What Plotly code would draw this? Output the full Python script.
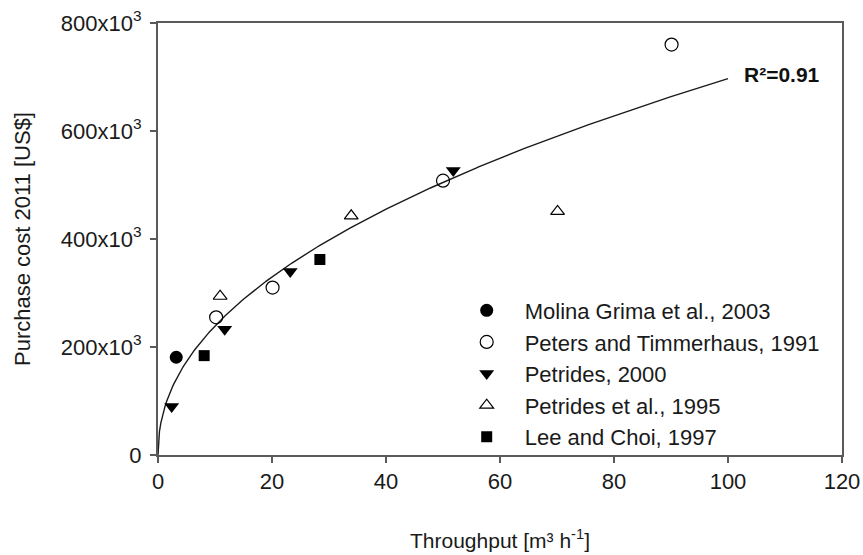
import numpy as np
import plotly.graph_objects as go

# ---- data ----
molina_x = [3.2]
molina_y = [181000]

peters_x = [10.2, 20.1, 50.0, 90.1]
peters_y = [255000, 310000, 508000, 760000]

petrides2000_x = [2.4, 11.7, 23.2, 51.8]
petrides2000_y = [90000, 233000, 340000, 527000]

petrides1995_x = [10.9, 33.9, 70.1]
petrides1995_y = [294000, 443000, 451000]

lee_x = [8.1, 28.4]
lee_y = [184000, 362000]

# power-law fit  y = a * x^b   (R^2 = 0.91)
fit_a = 81900
fit_b = 0.465
fit_xmax = 100

y_tickvals = [0, 200000, 400000, 600000, 800000]
y_ticktext = ["0", "200x10<sup>3</sup>", "400x10<sup>3</sup>",
              "600x10<sup>3</sup>", "800x10<sup>3</sup>"]
x_tickvals = [0, 20, 40, 60, 80, 100, 120]

FONT = "Liberation Sans, Arial, sans-serif"
AXC = "#5a5a5a"

fit_x = np.linspace(0, fit_xmax, 400)
fit_y = fit_a * fit_x ** fit_b

fig = go.Figure()
fig.add_trace(go.Scatter(x=fit_x, y=fit_y, mode="lines",
                         line=dict(color="#1a1a1a", width=1.4),
                         showlegend=False, hoverinfo="skip"))

def add(name, xs, ys, symbol, size):
    open_ = symbol.endswith("-open")
    fig.add_trace(go.Scatter(
        x=xs, y=ys, mode="markers", name=name,
        marker=dict(symbol=symbol, size=size, color="#000000",
                    line=dict(color="#222222", width=1.2 if open_ else 0))))

add("Molina Grima et al., 2003", molina_x, molina_y, "circle", 13)
add("Peters and Timmerhaus, 1991", peters_x, peters_y, "circle-open", 13)
add("Petrides, 2000", petrides2000_x, petrides2000_y, "triangle-down", 13)
add("Petrides et al., 1995", petrides1995_x, petrides1995_y, "triangle-up-open", 12)
add("Lee and Choi, 1997", lee_x, lee_y, "square", 11)

fig.add_annotation(x=fit_xmax, y=fit_a * fit_xmax ** fit_b,
                   text="<b>R²=0.91</b>", showarrow=False,
                   xanchor="left", yanchor="middle", xshift=14, yshift=4,
                   font=dict(family=FONT, size=21, color="#111111"))

fig.update_layout(
    width=863, height=555,
    margin=dict(l=158, r=21, t=23, b=100, autoexpand=False),
    paper_bgcolor="white", plot_bgcolor="white",
    font=dict(family=FONT, size=22, color="#1a1a1a"),
    legend=dict(x=0.425, y=0.383, xanchor="left", yanchor="top",
                bgcolor="rgba(0,0,0,0)", font=dict(family=FONT, size=22, color="#1a1a1a"),
                tracegroupgap=0, itemwidth=66),
    xaxis=dict(range=[0, 120], tickvals=x_tickvals, showgrid=False, zeroline=False,
               showline=True, linecolor=AXC, linewidth=2, mirror=True,
               ticks="outside", ticklen=6, tickcolor=AXC, tickwidth=1.5,
               tickfont=dict(size=22), automargin=False,
               title=dict(text="Throughput [m³ h<sup>-1</sup>]", standoff=40,
                          font=dict(size=21))),
    yaxis=dict(range=[0, 800000], tickvals=y_tickvals, ticktext=y_ticktext,
               showgrid=False, zeroline=False,
               showline=True, linecolor=AXC, linewidth=2, mirror=True,
               ticks="outside", ticklen=6, tickcolor=AXC, tickwidth=1.5,
               tickfont=dict(size=22), automargin=False, ticklabelstandoff=4,
               title=dict(text="Purchase cost 2011 [US$]", standoff=24,
                          font=dict(size=22))),
)

fig.write_html("out.html")
